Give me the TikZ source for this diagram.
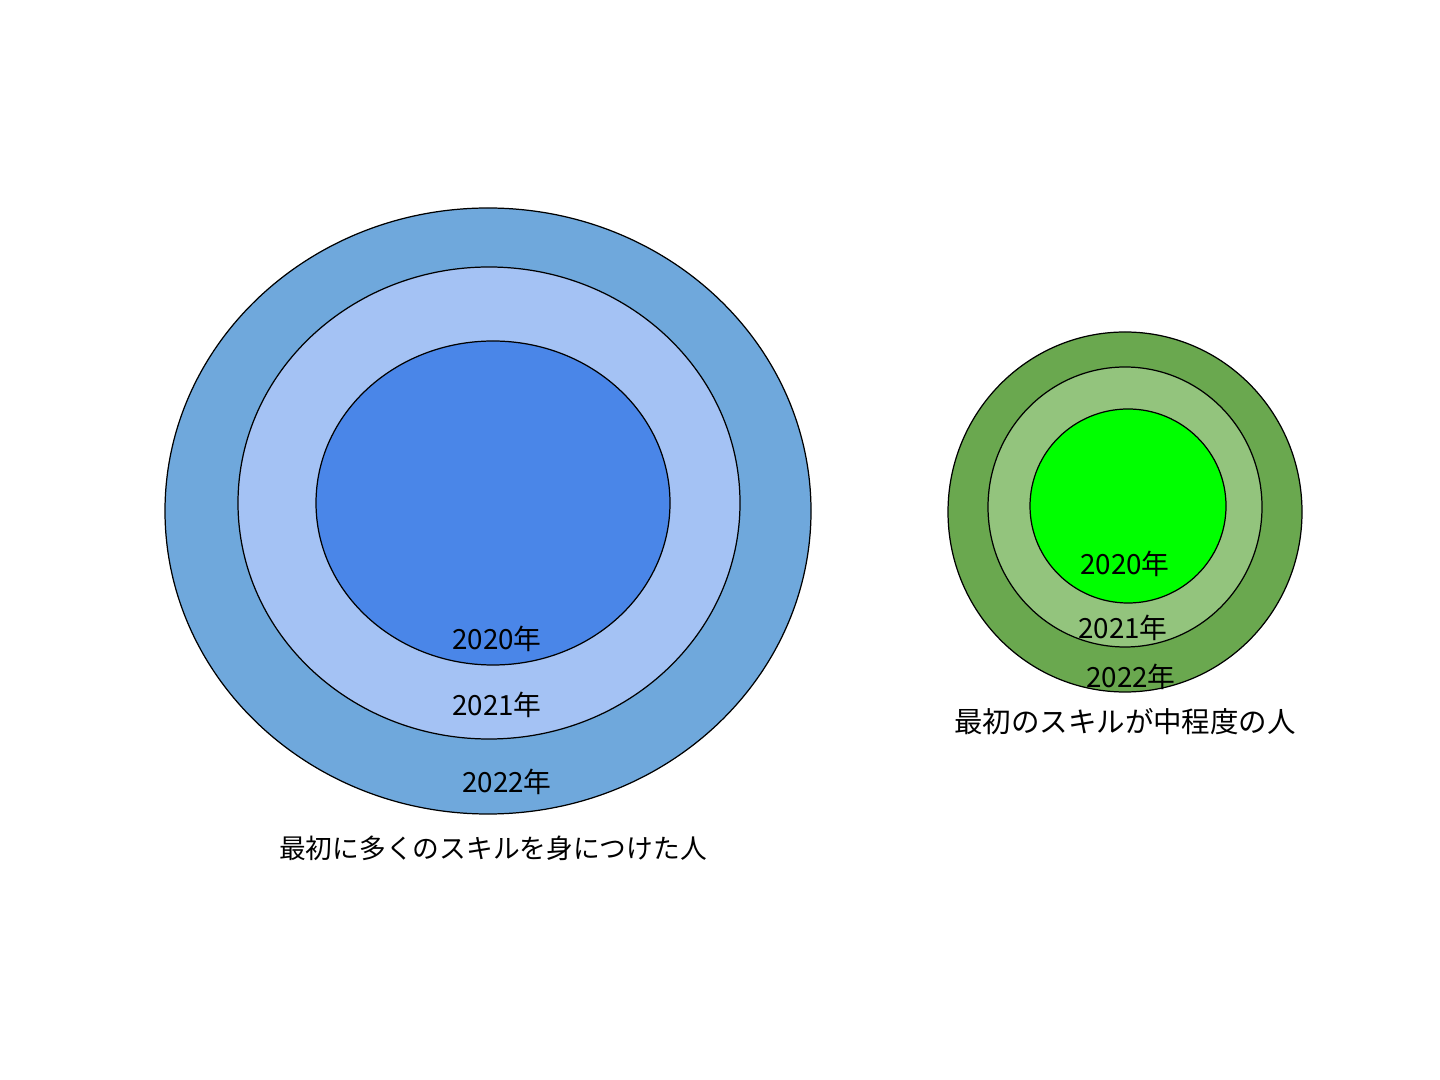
\documentclass[tikz,border=0pt]{standalone}
\usepackage{fontspec}
\setmainfont{Noto Sans CJK JP}
\definecolor{bOut}{HTML}{6FA8DC}
\definecolor{bMid}{HTML}{A4C2F4}
\definecolor{bIn}{HTML}{4A86E8}
\definecolor{gOut}{HTML}{6AA84F}
\definecolor{gMid}{HTML}{93C47D}
\definecolor{gIn}{HTML}{00FF00}
\begin{document}
\begin{tikzpicture}[x=0.01cm,y=-0.01cm,
  ring/.style={draw=black,line width=0.35pt},
  lbl/.style={font=\fontsize{7.9pt}{9pt}\selectfont,inner sep=0pt},
  ttl/.style={font=\fontsize{7.6pt}{9pt}\selectfont,inner sep=0pt}]
\useasboundingbox (0,0) rectangle (1440,1080);
% left
\filldraw[ring,fill=bOut] (488,511) ellipse [x radius=323,y radius=303];
\filldraw[ring,fill=bMid] (489,503) ellipse [x radius=251,y radius=236];
\filldraw[ring,fill=bIn] (493,503) ellipse [x radius=177,y radius=162];
\node[lbl] (l20) at (497,639) {2020年};
\node[lbl] (l21) at (497,705) {2021年};
\node[lbl] (l22) at (507,782) {2022年};
\node[ttl] (lt) at (493,848) {最初に多くのスキルを身につけた人};
% right
\filldraw[ring,fill=gOut] (1125,512) ellipse [x radius=177,y radius=180];
\filldraw[ring,fill=gMid] (1125,507) ellipse [x radius=137,y radius=140];
\filldraw[ring,fill=gIn] (1128,506) ellipse [x radius=98,y radius=97];
\node[lbl] (r20) at (1125,564) {2020年};
\node[lbl] (r21) at (1123,628) {2021年};
\node[lbl] (r22) at (1131,677) {2022年};
\node[ttl,font=\fontsize{8.1pt}{9pt}\selectfont] (rt) at (1125,722) {最初のスキルが中程度の人};
\end{tikzpicture}
\end{document}
